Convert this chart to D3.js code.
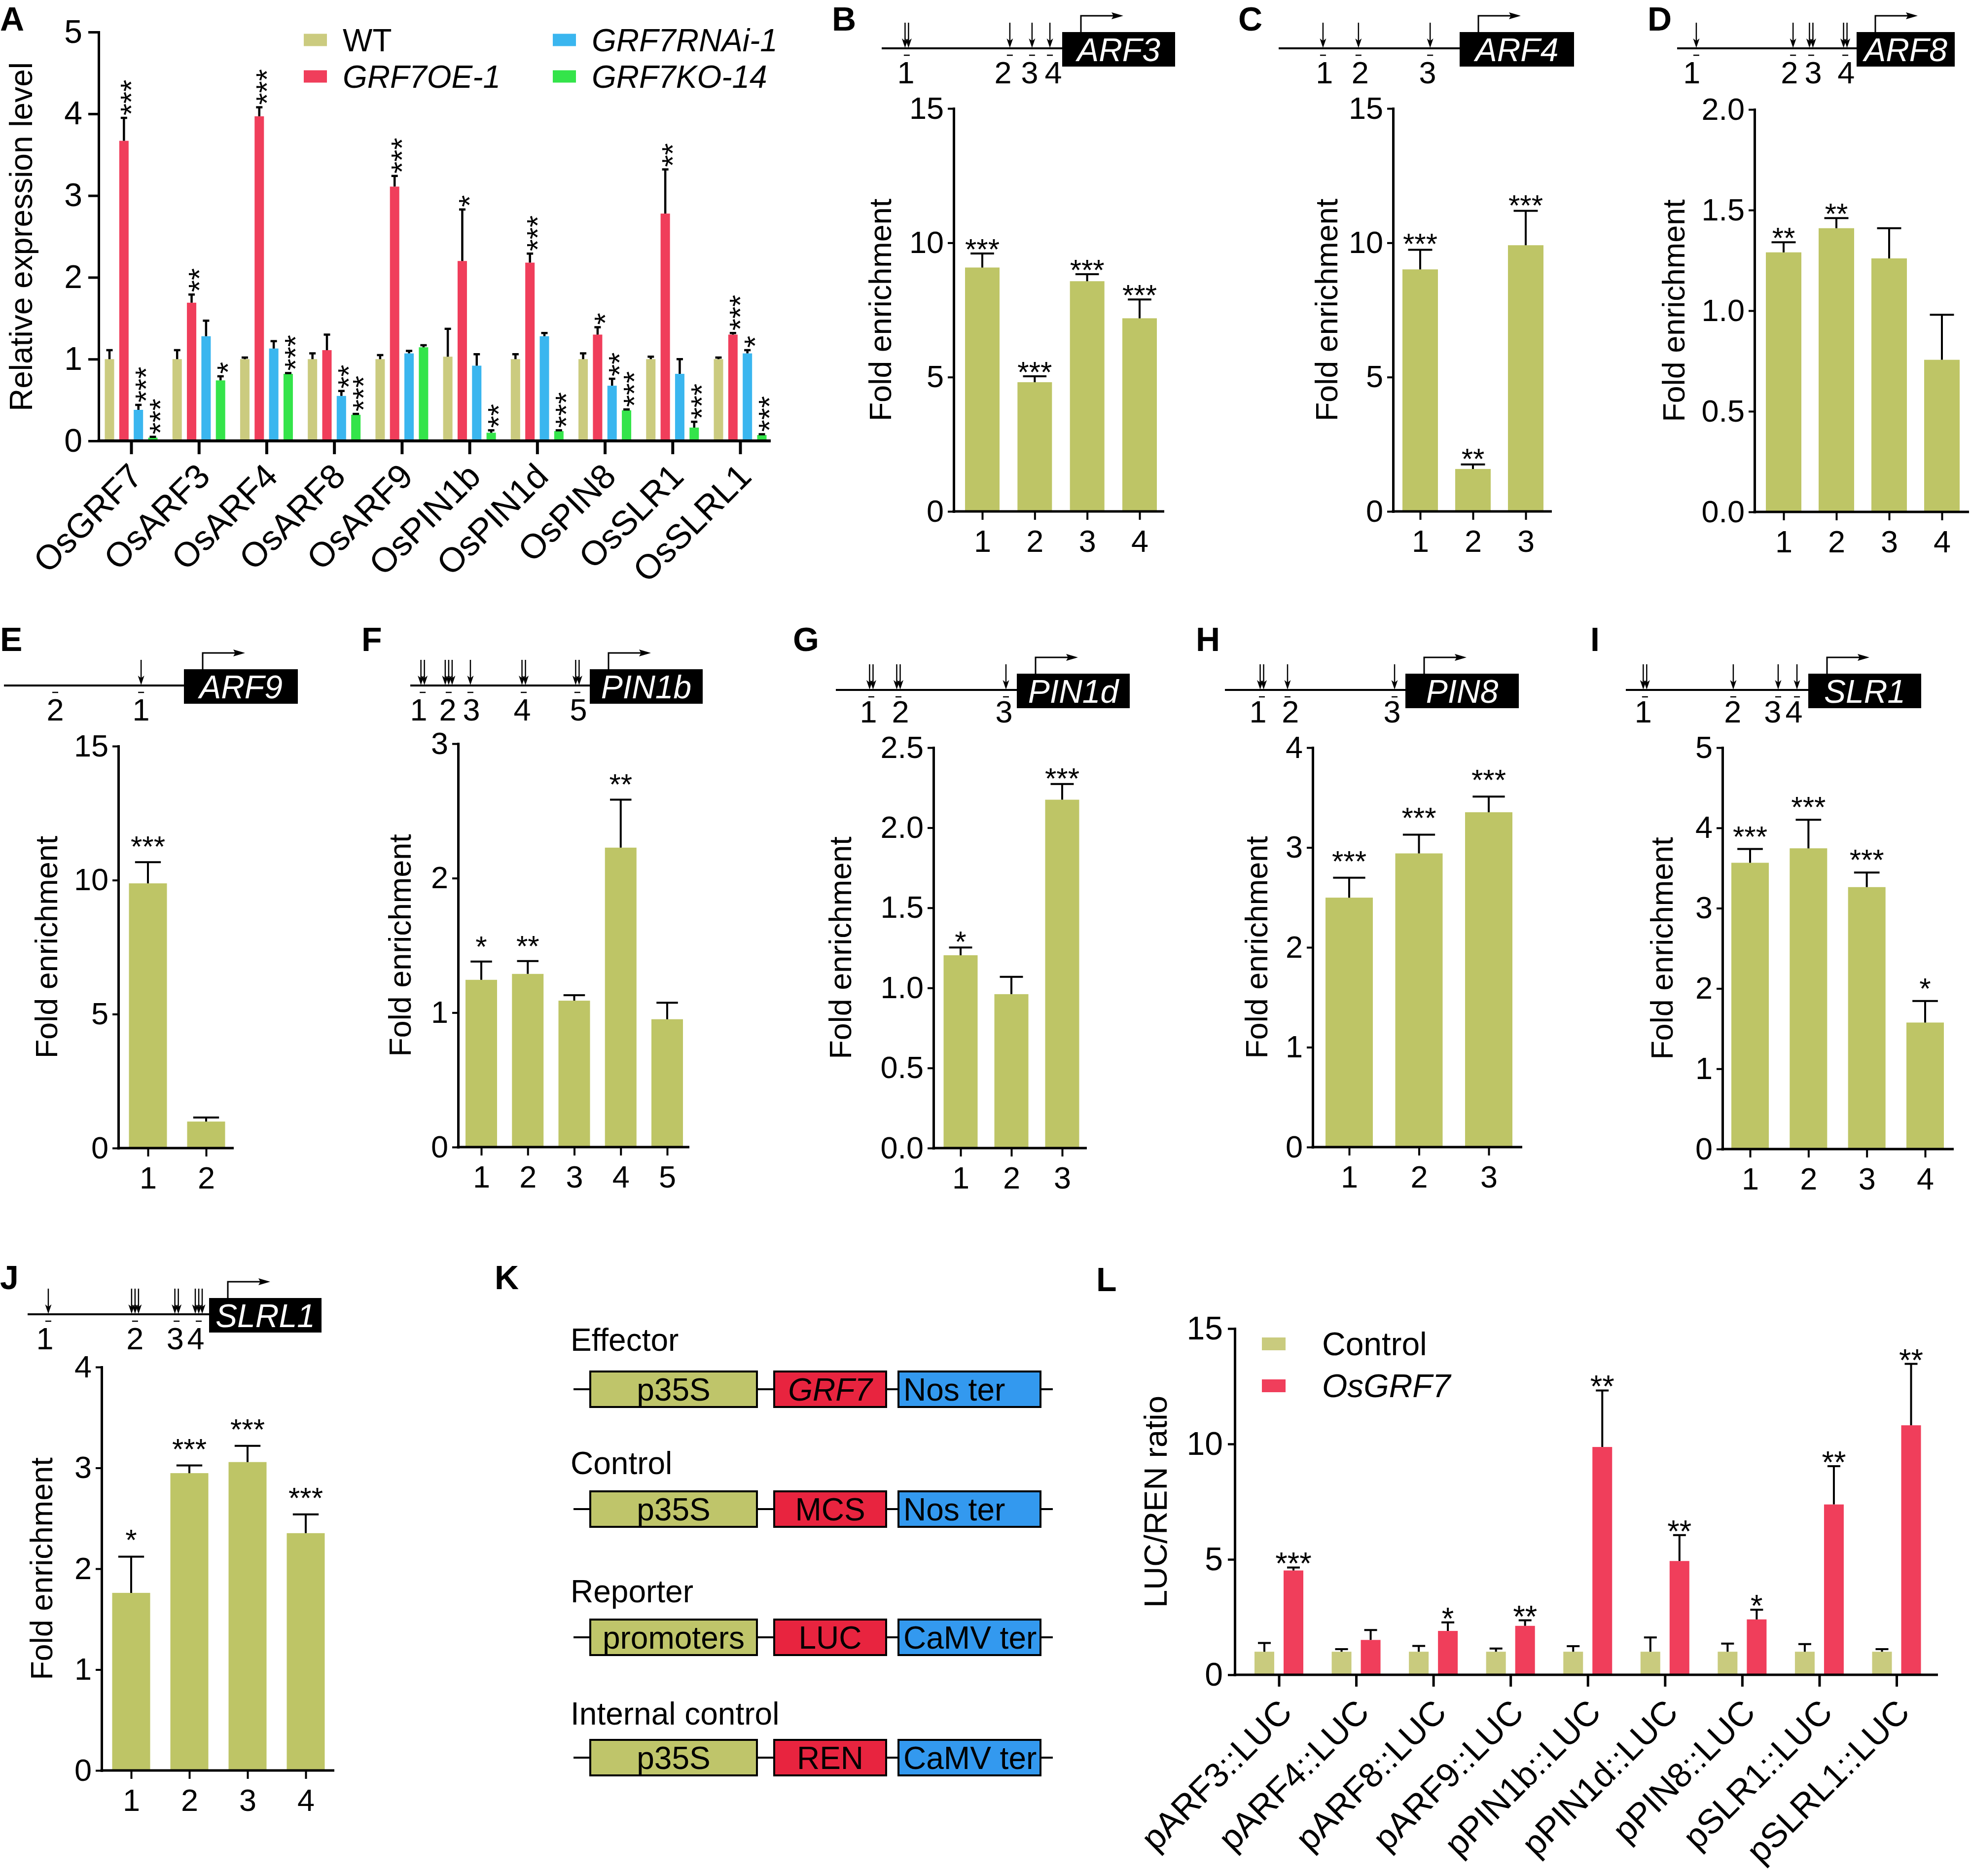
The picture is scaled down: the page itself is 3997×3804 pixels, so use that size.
<!DOCTYPE html>
<html><head><meta charset="utf-8">
<script src="https://cdn.jsdelivr.net/npm/d3@7/dist/d3.min.js"></script>
<style>html,body{margin:0;padding:0;background:#fff}</style>
</head><body>
<svg id="fig" width="3997" height="3804" xmlns="http://www.w3.org/2000/svg"></svg>
<script>
// ================= DATA =================
// Panel A : qRT-PCR
const genesA = ["OsGRF7","OsARF3","OsARF4","OsARF8","OsARF9","OsPIN1b","OsPIN1d","OsPIN8","OsSLR1","OsSLRL1"];
const linesA = ["WT","GRF7OE-1","GRF7RNAi-1","GRF7KO-14"];
const wtA      = [1.00,1.00,1.00,1.00,1.00,1.03,1.00,1.00,1.00,1.00];
const wtErrA   = [0.11,0.11,0.02,0.07,0.05,0.34,0.06,0.07,0.03,0.02];
const oeA      = [3.67,1.69,3.97,1.11,3.11,2.20,2.18,1.30,2.78,1.30];
const oeErrA   = [0.28,0.10,0.11,0.19,0.13,0.63,0.11,0.09,0.54,0.02];
const rnaiA    = [0.38,1.28,1.13,0.55,1.07,0.92,1.28,0.675,0.82,1.07];
const rnaiErrA = [0.06,0.19,0.09,0.06,0.03,0.14,0.04,0.085,0.18,0.04];
const koA      = [0.04,0.74,0.82,0.32,1.145,0.10,0.12,0.374,0.163,0.072];
const koErrA   = [0.01,0.05,0.01,0.01,0.025,0.03,0.01,0.01,0.07,0.01];
const oeStarsA   = ["***","**","***","","***","*","***","*","**","***"];
const rnaiStarsA = ["***","","","**","","","","**","","*"];
const koStarsA   = ["***","*","***","***","","**","***","***","***","***"];
const ticksA = [0,1,2,3,4,5];

// Panels B-J : ChIP-qPCR (fold enrichment per promoter site)
// pos = site position along promoter (0 = drawn start, 1 = TSS box), arrows = number of GRF7 motifs
const sitesB = ["1","2","3","4"]; const foldB = [9.08,4.81,8.57,7.19]; const errB = [0.52,0.22,0.26,0.70];
const starsB = ["***","***","***","***"]; const ticksB = [0,5,10,15];
const posB = [0.139,0.710,0.833,0.932]; const arrowsB = [2,1,1,1]; const labelPosB = [0.134,0.672,0.820,0.951];

const sitesC = ["1","2","3"]; const foldC = [9.01,1.58,9.91]; const errC = [0.73,0.17,1.28];
const starsC = ["***","**","***"]; const ticksC = [0,5,10,15];
const posC = [0.245,0.441,0.837]; const arrowsC = [1,1,1]; const labelPosC = [0.253,0.450,0.823];

const sitesD = ["1","2","3","4"]; const foldD = [1.29,1.41,1.26,0.756]; const errD = [0.05,0.05,0.15,0.224];
const starsD = ["**","**","",""]; const ticksD = [0,0.5,1.0,1.5,2.0];
const posD = [0.107,0.646,0.747,0.937]; const arrowsD = [1,1,2,2]; const labelPosD = [0.082,0.626,0.758,0.942];

const sitesE = ["1","2"]; const foldE = [9.88,0.99]; const errE = [0.79,0.15];
const starsE = ["***",""]; const ticksE = [0,5,10,15];
const posE = [0.762,0.285]; const arrowsE = [1,0]; const labelPosE = [0.762,0.285];

const sitesF = ["1","2","3","4","5"]; const foldF = [1.244,1.288,1.089,2.227,0.951]; const errF = [0.136,0.096,0.041,0.357,0.123];
const starsF = ["*","**","","**",""]; const ticksF = [0,1,2,3];
const posF = [0.069,0.214,0.335,0.632,0.931]; const arrowsF = [2,3,1,2,2]; const labelPosF = [0.047,0.209,0.341,0.624,0.937];

const sitesG = ["1","2","3"]; const foldG = [1.204,0.961,2.175]; const errG = [0.048,0.108,0.098];
const starsG = ["*","","***"]; const ticksG = [0,0.5,1.0,1.5,2.0,2.5];
const posG = [0.196,0.346,0.940]; const arrowsG = [2,2,1]; const labelPosG = [0.180,0.357,0.929];

const sitesH = ["1","2","3"]; const foldH = [2.498,2.941,3.353]; const errH = [0.20,0.188,0.157];
const starsH = ["***","***","***"]; const ticksH = [0,1,2,3,4];
const posH = [0.205,0.347,0.940]; const arrowsH = [2,1,1]; const labelPosH = [0.183,0.363,0.926];

const sitesI = ["1","2","3","4"]; const foldI = [3.566,3.746,3.263,1.576]; const errI = [0.171,0.356,0.181,0.268];
const starsI = ["***","***","***","*"]; const ticksI = [0,1,2,3,4,5];
const posI = [0.105,0.589,0.835,0.938]; const arrowsI = [2,1,1,1]; const labelPosI = [0.095,0.586,0.805,0.922];

const sitesJ = ["1","2","3","4"]; const foldJ = [1.761,2.948,3.058,2.353]; const errJ = [0.359,0.076,0.161,0.186];
const starsJ = ["*","***","***","***"]; const ticksJ = [0,1,2,3,4];
const posJ = [0.114,0.592,0.821,0.943]; const arrowsJ = [1,3,2,3]; const labelPosJ = [0.095,0.592,0.813,0.927];

// Panel K : constructs
const constructsK = ["Effector","Control","Reporter","Internal control"];
const promoterPartK = ["p35S","p35S","promoters","p35S"];
const genePartK = ["GRF7","MCS","LUC","REN"];
const terminatorPartK = ["Nos ter","Nos ter","CaMV ter","CaMV ter"];

// Panel L : dual luciferase
const reportersL = ["pARF3::LUC","pARF4::LUC","pARF8::LUC","pARF9::LUC","pPIN1b::LUC","pPIN1d::LUC","pPIN8::LUC","pSLR1::LUC","pSLRL1::LUC"];
const groupsL = ["Control","OsGRF7"];
const controlL    = [1.00,1.00,1.00,1.00,1.00,1.00,1.00,1.00,1.00];
const controlErrL = [0.38,0.11,0.25,0.14,0.24,0.62,0.35,0.33,0.11];
const grf7L       = [4.52,1.51,1.90,2.12,9.87,4.93,2.40,7.38,10.81];
const grf7ErrL    = [0.13,0.43,0.37,0.24,2.45,1.12,0.42,1.66,2.66];
const starsL      = ["***","","*","**","**","**","*","**","**"];
const ticksL = [0,5,10,15];

// ================= STYLE =================
const FONT = '"Liberation Sans", Arial, Helvetica, sans-serif';
const COL = {wt:"#cbcb7f", red:"#f03e5b", blue:"#3ab6ef", green:"#34e44a",
             chip:"#bec566", ctrl:"#c9cb7e", kOlive:"#bfc56a", kRed:"#e8243f", kBlue:"#3399ef"};

const svg = d3.select("#fig").attr("font-family", FONT);
svg.append("rect").attr("width",3997).attr("height",3804).attr("fill","#fff");

function txt(g, x, y, s, o = {}) {
  const t = g.append("text").attr("x", x).attr("y", y).text(s)
    .attr("font-size", o.size || 63)
    .attr("text-anchor", o.anchor || "start")
    .attr("fill", o.fill || "#000");
  if (o.italic) t.attr("font-style", "italic");
  if (o.bold) t.attr("font-weight", "bold");
  if (o.transform) t.attr("transform", o.transform);
  return t;
}
function styleAxis(sel, size, tickW) {
  sel.attr("font-family", FONT).attr("font-size", size);
  sel.select(".domain").attr("stroke-width", 5).attr("stroke-linecap", "square");
  sel.selectAll(".tick line").attr("stroke-width", tickW || 4.5);
}

// ================= PANEL A =================
(function () {
  const g = svg.append("g");
  txt(g, 0, 62, "A", {bold: true, size: 68});
  const y = d3.scaleLinear().domain([0, d3.max(ticksA)]).range([894, 65]);
  const x = d3.scalePoint().domain(genesA).range([266, 1501]);
  const off = d3.scalePoint().domain(linesA).range([-44, 44]);
  const series = [
    {line: linesA[0], v: wtA, e: wtErrA, s: null, c: COL.wt},
    {line: linesA[1], v: oeA, e: oeErrA, s: oeStarsA, c: COL.red},
    {line: linesA[2], v: rnaiA, e: rnaiErrA, s: rnaiStarsA, c: COL.blue},
    {line: linesA[3], v: koA, e: koErrA, s: koStarsA, c: COL.green}];
  const bw = 19, fs = 62;
  series.forEach(se => {
    const sg = g.append("g");
    sg.selectAll("rect").data(genesA).join("rect")
      .attr("x", d => x(d) + off(se.line) - bw / 2).attr("width", bw)
      .attr("y", (d, i) => y(se.v[i])).attr("height", (d, i) => y(0) - y(se.v[i]))
      .attr("fill", se.c);
    sg.selectAll("path").data(genesA).join("path")
      .attr("d", (d, i) => {
        const cx = x(d) + off(se.line), t = y(se.v[i] + se.e[i]);
        return `M${cx},${y(se.v[i])}V${t}M${cx - 6.5},${t}H${cx + 6.5}`;
      })
      .attr("stroke", "#000").attr("stroke-width", 4.5).attr("fill", "none");
    if (se.s) {
      genesA.forEach((d, i) => {
        if (!se.s[i]) return;
        const cx = x(d) + off(se.line), t = y(se.v[i] + se.e[i]);
        txt(sg, 0, 0, se.s[i], {size: fs,
          transform: `translate(${cx + 0.58 * fs},${t - 5}) rotate(-90)`});
      });
    }
  });
  const ya = g.append("g").attr("transform", "translate(200,0)")
    .call(d3.axisLeft(y).tickValues(ticksA).tickSize(21).tickSizeOuter(0).tickPadding(12).tickFormat(d3.format("d")));
  styleAxis(ya, 66, 5);
  g.append("line").attr("x1", 197.5).attr("x2", 1563).attr("y1", 894).attr("y2", 894)
    .attr("stroke", "#000").attr("stroke-width", 6);
  const xa = g.append("g").attr("transform", "translate(0,894)").call(d3.axisBottom(x).tickSize(27));
  xa.select(".domain").remove();
  xa.attr("font-family", FONT).attr("font-size", 70);
  xa.selectAll(".tick line").attr("stroke-width", 6);
  xa.selectAll(".tick text").attr("y", 0).attr("dy", null).attr("text-anchor", "end")
    .attr("transform", "translate(26,76) rotate(-45)");
  txt(g, 65, 480, "Relative expression level", {anchor: "middle", size: 64, transform: "rotate(-90 65 480)"});
  // legend
  const legColors = [COL.wt, COL.red, COL.blue, COL.green];
  const legX = d3.scalePoint().domain([0, 1]).range([616, 1121]);
  const legY = d3.scalePoint().domain([0, 1]).range([81, 155]);
  linesA.forEach((l, i) => {
    const cx = legX(Math.floor(i / 2)), cy = legY(i % 2);
    g.append("rect").attr("x", cx).attr("y", cy - 12.5).attr("width", 47).attr("height", 25).attr("fill", legColors[i]);
    txt(g, cx + 79, cy + 23, l, {size: 64, italic: i > 0});
  });
})();

// ================= PANELS B-J =================
const chipPanels = [
 {letter:"B", lx:1687, ly:62, gene:"ARF3", sites:sitesB, fold:foldB, err:errB, stars:starsB, ticks:ticksB, pos:posB, arrows:arrowsB, lpos:labelPosB, fmt:"d",
  lineY:98, x0:1788, box:2154, boxW:229, axX:1934, axX1:2361, y0:1037, yTop:220, c0:1992, c1:2311, bw:70, titleDx:-149, gap:23},
 {letter:"C", lx:2511, ly:62, gene:"ARF4", sites:sitesC, fold:foldC, err:errC, stars:starsC, ticks:ticksC, pos:posC, arrows:arrowsC, lpos:labelPosC, fmt:"d",
  lineY:98, x0:2593, box:2960, boxW:232, axX:2825, axX1:3147, y0:1037, yTop:220, c0:2880, c1:3094, bw:72, titleDx:-135, gap:26},
 {letter:"D", lx:3341, ly:62, gene:"ARF8", sites:sitesD, fold:foldD, err:errD, stars:starsD, ticks:ticksD, pos:posD, arrows:arrowsD, lpos:labelPosD, fmt:".1f",
  lineY:98, x0:3401, box:3765, boxW:199, axX:3558, axX1:3993, y0:1038, yTop:222, c0:3617, c1:3938, bw:72, titleDx:-164, gap:23},
 {letter:"E", lx:0, ly:1320, gene:"ARF9", sites:sitesE, fold:foldE, err:errE, stars:starsE, ticks:ticksE, pos:posE, arrows:arrowsE, lpos:labelPosE, fmt:"d",
  lineY:1390, x0:8, box:373, boxW:231, axX:240, axX1:474, y0:2328, yTop:1513, c0:300, c1:418, bw:77, titleDx:-146, gap:46},
 {letter:"F", lx:733, ly:1320, gene:"PIN1b", sites:sitesF, fold:foldF, err:errF, stars:starsF, ticks:ticksF, pos:posF, arrows:arrowsF, lpos:labelPosF, fmt:"d",
  lineY:1390, x0:832, box:1196, boxW:229, axX:929, axX1:1398, y0:2326, yTop:1508, c0:976, c1:1353, bw:64, titleDx:-118, gap:45},
 {letter:"G", lx:1608, ly:1320, gene:"PIN1d", sites:sitesG, fold:foldG, err:errG, stars:starsG, ticks:ticksG, pos:posG, arrows:arrowsG, lpos:labelPosG, fmt:".1f",
  lineY:1399, x0:1695, box:2062, boxW:229, axX:1893, axX1:2204, y0:2328, yTop:1516, c0:1948, c1:2154, bw:69, titleDx:-189, gap:26, lblDy:66},
 {letter:"H", lx:2425, ly:1320, gene:"PIN8", sites:sitesH, fold:foldH, err:errH, stars:starsH, ticks:ticksH, pos:posH, arrows:arrowsH, lpos:labelPosH, fmt:"d",
  lineY:1399, x0:2484, box:2850, boxW:230, axX:2662, axX1:3087, y0:2326, yTop:1516, c0:2736, c1:3019, bw:96, titleDx:-114, gap:48, lblDy:66},
 {letter:"I", lx:3225, ly:1320, gene:"SLR1", sites:sitesI, fold:foldI, err:errI, stars:starsI, ticks:ticksI, pos:posI, arrows:arrowsI, lpos:labelPosI, fmt:"d",
  lineY:1399, x0:3297, box:3667, boxW:229, axX:3493, axX1:3962, y0:2330, yTop:1516, c0:3549, c1:3904, bw:76, titleDx:-123, gap:40, lblDy:66},
 {letter:"J", lx:0, ly:2614, gene:"SLRL1", sites:sitesJ, fold:foldJ, err:errJ, stars:starsJ, ticks:ticksJ, pos:posJ, arrows:arrowsJ, lpos:labelPosJ, fmt:"d",
  lineY:2665, x0:56, box:424, boxW:228, axX:206, axX1:678, y0:3590, yTop:2772, c0:266, c1:620, bw:77, titleDx:-122, gap:48}
];

function drawChip(p) {
  const g = svg.append("g");
  txt(g, p.lx, p.ly, p.letter, {bold: true, size: 68});
  // ---- promoter diagram ----
  const px = d3.scaleLinear().domain([0, 1]).range([p.x0, p.box]);
  const L = p.lineY;
  g.append("line").attr("x1", p.x0).attr("x2", p.box).attr("y1", L).attr("y2", L)
    .attr("stroke", "#000").attr("stroke-width", 4);
  g.append("rect").attr("x", p.box).attr("y", L - 33).attr("width", p.boxW).attr("height", 70).attr("fill", "#000");
  txt(g, p.box + p.boxW / 2, L + 26, p.gene, {italic: true, fill: "#fff", anchor: "middle", size: 66});
  const ax = p.box + 38, topY = L - 33, ay = topY - 33;
  g.append("path").attr("d", `M${ax},${topY}V${ay}H${ax + 66}`).attr("fill", "none")
    .attr("stroke", "#000").attr("stroke-width", 3);
  g.append("path").attr("d", `M${ax + 86},${ay}L${ax + 62},${ay - 7}L${ax + 66},${ay}L${ax + 62},${ay + 7}Z`).attr("fill", "#000");
  p.sites.forEach((s, i) => {
    const cx = px(p.pos[i]), n = p.arrows[i];
    for (let k = 0; k < n; k++) {
      const xx = cx + (k - (n - 1) / 2) * 7;
      g.append("line").attr("x1", xx).attr("x2", xx).attr("y1", L - 52).attr("y2", L - 12)
        .attr("stroke", "#000").attr("stroke-width", 2.5);
      g.append("path").attr("d", `M${xx},${L - 1}L${xx - 6.5},${L - 20}L${xx},${L - 15}L${xx + 6.5},${L - 20}Z`).attr("fill", "#000");
    }
    g.append("line").attr("x1", cx - 6).attr("x2", cx + 6).attr("y1", L + 14).attr("y2", L + 14)
      .attr("stroke", "#000").attr("stroke-width", 2.5);
    txt(g, px(p.lpos[i]), L + (p.lblDy || 71), s, {anchor: "middle", size: 63});
  });
  // ---- bar chart ----
  const y = d3.scaleLinear().domain([0, d3.max(p.ticks)]).range([p.y0, p.yTop]);
  const x = d3.scalePoint().domain(p.sites).range([p.c0, p.c1]);
  g.append("g").selectAll("rect").data(p.sites).join("rect")
    .attr("x", d => x(d) - p.bw / 2).attr("width", p.bw)
    .attr("y", (d, i) => y(p.fold[i])).attr("height", (d, i) => p.y0 - y(p.fold[i]))
    .attr("fill", COL.chip);
  const cap = p.bw * 0.34;
  g.append("g").selectAll("path").data(p.sites).join("path")
    .attr("d", (d, i) => {
      const t = y(p.fold[i] + p.err[i]);
      return `M${x(d)},${y(p.fold[i])}V${t}M${x(d) - cap},${t}H${x(d) + cap}`;
    })
    .attr("stroke", "#000").attr("stroke-width", 4).attr("fill", "none");
  p.sites.forEach((d, i) => {
    if (!p.stars[i]) return;
    txt(g, x(d), y(p.fold[i] + p.err[i]) - p.gap + 35, p.stars[i], {anchor: "middle", size: 60});
  });
  const ya = g.append("g").attr("transform", `translate(${p.axX},0)`)
    .call(d3.axisLeft(y).tickValues(p.ticks).tickSize(12).tickSizeOuter(0).tickPadding(8).tickFormat(d3.format(p.fmt)));
  styleAxis(ya, 63, 4);
  g.append("line").attr("x1", p.axX - 2.5).attr("x2", p.axX1).attr("y1", p.y0).attr("y2", p.y0)
    .attr("stroke", "#000").attr("stroke-width", 5);
  const xa = g.append("g").attr("transform", `translate(0,${p.y0})`)
    .call(d3.axisBottom(x).tickSize(17).tickPadding(20));
  xa.select(".domain").remove();
  xa.attr("font-family", FONT).attr("font-size", 63);
  xa.selectAll(".tick line").attr("stroke-width", 4);
  const tx = p.axX + p.titleDx + 22, ty = (p.y0 + p.yTop) / 2;
  txt(g, tx, ty, "Fold enrichment", {anchor: "middle", size: 63, transform: `rotate(-90 ${tx} ${ty})`});
}
chipPanels.forEach(drawChip);

// ================= PANEL K =================
(function () {
  const g = svg.append("g");
  txt(g, 1003, 2614, "K", {bold: true, size: 68});
  const titleY = [2739, 2989, 3249, 3497];
  const rowY = [2817, 3060, 3320, 3564];
  const boxes = [[1197, 1535], [1570, 1797], [1822, 2110]];
  const fills = [COL.kOlive, COL.kRed, COL.kBlue];
  constructsK.forEach((c, i) => {
    txt(g, 1157, titleY[i], c, {size: 64});
    const cy = rowY[i];
    g.append("line").attr("x1", 1163).attr("x2", 2135).attr("y1", cy).attr("y2", cy)
      .attr("stroke", "#000").attr("stroke-width", 4);
    const parts = [promoterPartK[i], genePartK[i], terminatorPartK[i]];
    boxes.forEach((b, j) => {
      g.append("rect").attr("x", b[0]).attr("y", cy - 36).attr("width", b[1] - b[0]).attr("height", 72)
        .attr("fill", fills[j]).attr("stroke", "#000").attr("stroke-width", 4);
      if (j === 2) txt(g, b[0] + 10, cy + 23, parts[j], {size: 64});
      else txt(g, (b[0] + b[1]) / 2, cy + 23, parts[j], {size: 64, anchor: "middle", italic: parts[j] === "GRF7"});
    });
  });
})();

// ================= PANEL L =================
(function () {
  const g = svg.append("g");
  txt(g, 2223, 2618, "L", {bold: true, size: 68});
  const y0 = 3396;
  const y = d3.scaleLinear().domain([0, d3.max(ticksL)]).range([y0, 2694]);
  const x = d3.scalePoint().domain(reportersL).range([2593.5, 3846]);
  const off = d3.scalePoint().domain(groupsL).range([-29.5, 29.5]);
  const bw = 40, cap = 13;
  const series = [{grp: groupsL[0], v: controlL, e: controlErrL, c: COL.ctrl, s: null},
                  {grp: groupsL[1], v: grf7L, e: grf7ErrL, c: COL.red, s: starsL}];
  series.forEach(se => {
    const sg = g.append("g");
    sg.selectAll("rect").data(reportersL).join("rect")
      .attr("x", d => x(d) + off(se.grp) - bw / 2).attr("width", bw)
      .attr("y", (d, i) => y(se.v[i])).attr("height", (d, i) => y0 - y(se.v[i])).attr("fill", se.c);
    sg.selectAll("path").data(reportersL).join("path")
      .attr("d", (d, i) => {
        const cx = x(d) + off(se.grp), t = y(se.v[i] + se.e[i]);
        return `M${cx},${y(se.v[i])}V${t}M${cx - cap},${t}H${cx + cap}`;
      })
      .attr("stroke", "#000").attr("stroke-width", 4).attr("fill", "none");
    if (se.s) reportersL.forEach((d, i) => {
      if (!se.s[i]) return;
      txt(sg, x(d) + off(se.grp), y(se.v[i] + se.e[i]) - 24 + 37, se.s[i], {anchor: "middle", size: 63});
    });
  });
  const ya = g.append("g").attr("transform", "translate(2504,0)")
    .call(d3.axisLeft(y).tickValues(ticksL).tickSize(14).tickSizeOuter(0).tickPadding(10).tickFormat(d3.format("d")));
  styleAxis(ya, 66, 4.5);
  g.append("line").attr("x1", 2501.5).attr("x2", 3930).attr("y1", y0).attr("y2", y0)
    .attr("stroke", "#000").attr("stroke-width", 5);
  const xa = g.append("g").attr("transform", `translate(0,${y0})`).call(d3.axisBottom(x).tickSize(24));
  xa.select(".domain").remove();
  xa.attr("font-family", FONT).attr("font-size", 70);
  xa.selectAll(".tick line").attr("stroke-width", 5);
  xa.selectAll(".tick text").attr("y", 0).attr("dy", null).attr("text-anchor", "end")
    .attr("transform", "translate(30,80) rotate(-45)");
  txt(g, 2366, 3045, "LUC/REN ratio", {anchor: "middle", size: 65, transform: "rotate(-90 2366 3045)"});
  const legY = d3.scalePoint().domain(groupsL).range([2725, 2810]);
  [COL.ctrl, COL.red].forEach((c, i) => {
    const cy = legY(groupsL[i]);
    g.append("rect").attr("x", 2559).attr("y", cy - 13).attr("width", 48).attr("height", 26).attr("fill", c);
    txt(g, 2681, cy + 23, groupsL[i], {size: 66, italic: i === 1});
  });
})();
</script>
</body></html>
